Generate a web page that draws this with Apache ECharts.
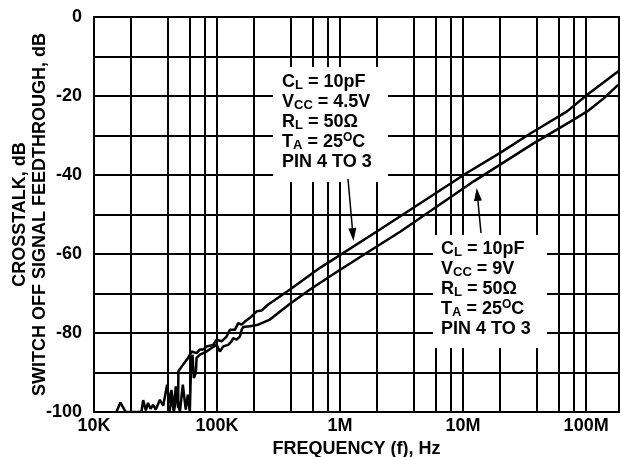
<!DOCTYPE html>
<html>
<head>
<meta charset="utf-8">
<script src="https://cdn.jsdelivr.net/npm/echarts@6/dist/echarts.min.js"></script>
<style>
  html, body { margin: 0; padding: 0; background: #fff; }
  #chart { width: 621px; height: 457px; }
</style>
</head>
<body>
<div id="chart"></div>
<script>
// Crosstalk vs frequency, two supply voltages
const freq45 = [15.2e3, 16.4e3, 18.1e3, 24.3e3, 25.1e3, 26.4e3, 27.5e3, 28.8e3, 30.2e3, 31.8e3,
  34.3e3, 36.5e3, 39.3e3, 40.8e3, 42.6e3, 44.5e3, 46.2e3, 48.3e3, 48.5e3, 53.0e3,
  58.2e3, 62.1e3, 68.2e3, 72.5e3, 77.1e3, 82.2e3, 93.1e3, 99.1e3, 108.9e3, 119.6e3,
  127.3e3, 139.7e3, 148.6e3, 158.5e3, 168.5e3, 191e3, 210e3, 230e3, 261e3, 392e3,
  687e3, 2.11e6, 10.7e6, 20e6, 35.2e6, 70e6, 102e6, 185e6];
const db45 = [-100, -97.6, -100, -100, -97, -99.6, -97.7, -99.2, -98.2, -99.4,
  -96.9, -98.4, -93.1, -97.7, -94.4, -99.4, -93.5, -99, -89.7, -88.0,
  -86.3, -84.7, -85.1, -84.2, -84.2, -83.4, -83.0, -81.7, -82.1, -80.9,
  -79.2, -79.2, -77.5, -77.9, -77.1, -75.8, -74.5, -74.3, -72.8, -69.0,
  -63.5, -53.8, -39.5, -34.4, -29.5, -23.9, -19.7, -13.6];

const freq9 = [41e3, 43e3, 44.5e3, 47.1e3, 49.9e3, 52.7e3, 55.7e3, 57.9e3, 60.1e3, 61.3e3,
  63.2e3, 64.8e3, 67.3e3, 68.2e3, 72.5e3, 82.2e3, 90.3e3, 99.1e3, 105.5e3, 112.2e3,
  123.3e3, 131.3e3, 135.3e3, 144.2e3, 153.5e3, 158.5e3, 163e3, 185e3, 216e3, 269e3,
  392e3, 570e3, 1e6, 3.1e6, 12.2e6, 37.4e6, 74.5e6, 102e6, 139e6, 182e6];
const db9 = [-100, -96, -100, -95.6, -100, -93.1, -99.4, -95.6, -100, -89.8,
  -85.5, -91.4, -90.1, -86.3, -85.5, -84.7, -83.8, -83.0, -84.7, -83.4,
  -83.0, -82.1, -81.3, -81.7, -80.9, -79.2, -78.5, -78.3, -77.9, -76.6,
  -72.6, -69.0, -64.0, -54.3, -41.6, -32.0, -26.5, -23.9, -20.6, -17.2];

const decadeLabels = { 4: '10K', 5: '100K', 6: '1M', 7: '10M', 8: '100M' };
const minorGridFreqs = [];
[1e4, 1e5, 1e6, 1e7, 1e8].forEach(d => [2, 4, 6, 8].forEach(m => {
  if (d * m < 1.85e8) minorGridFreqs.push(d * m);
}));

const FONT = "'Liberation Sans', Arial, sans-serif";

const toPairs = (xs, ys) => xs.map((x, i) => [x, ys[i]]);

// 注释框里的富文本
const rich = {
  m: { fontSize: 18, fontWeight: 'bold', fontFamily: FONT, lineHeight: 20, color: '#000' },
  s: { fontSize: 13, fontWeight: 'bold', fontFamily: FONT, lineHeight: 10, verticalAlign: 'bottom', color: '#000' },
  u: { fontSize: 12, fontWeight: 'bold', fontFamily: FONT, lineHeight: 10, verticalAlign: 'top', color: '#000' }
};
const noteText = (vcc) => [
  '{m|C}{s|L}{m| = 10pF}',
  '{m|V}{s|CC}{m| = ' + vcc + '}',
  '{m|R}{s|L}{m| = 50Ω}',
  '{m|T}{s|A}{m| = 25}{u|O}{m|C}',
  '{m|PIN 4 TO 3}'
].join('\n');

const arrow = (x1, y1, x2, y2) => {
  const dx = x2 - x1, dy = y2 - y1, len = Math.hypot(dx, dy);
  const ux = dx / len, uy = dy / len;
  const bx = x2 - ux * 13, by = y2 - uy * 13;
  const px = -uy * 4, py = ux * 4;
  return [
    { type: 'line', z: 102, shape: { x1, y1, x2: bx, y2: by }, style: { stroke: '#000', lineWidth: 1.5 } },
    { type: 'polygon', z: 102, shape: { points: [[x2, y2], [bx + px, by + py], [bx - px, by - py]] }, style: { fill: '#000' } }
  ];
};

const chart = echarts.init(document.getElementById('chart'));

chart.setOption({
  backgroundColor: '#fff',
  animation: false,
  grid: {
    left: 94, top: 17, right: 2, bottom: 45,
    show: true, borderColor: '#000', borderWidth: 2,
    containLabel: false, outerBoundsMode: 'none'
  },
  xAxis: {
    type: 'log',
    logBase: 10,
    min: 1e4,
    max: 1.85e8,
    name: 'FREQUENCY (f), Hz',
    nameLocation: 'middle',
    nameGap: 28,
    nameMoveOverlap: false,
    nameTextStyle: { fontSize: 18, fontWeight: 'bold', fontFamily: FONT, color: '#000' },
    axisLine: { show: true, lineStyle: { color: '#000', width: 2 } },
    axisTick: { show: false },
    axisLabel: {
      margin: 5,
      fontSize: 18, fontWeight: 'bold', fontFamily: FONT, color: '#000',
      formatter: v => {
        const e = Math.log10(v);
        return Math.abs(e - Math.round(e)) < 1e-6 ? (decadeLabels[Math.round(e)] || '') : '';
      }
    },
    splitLine: { show: true, lineStyle: { color: '#000', width: 2 } }
  },
  yAxis: {
    type: 'value',
    min: -100,
    max: 0,
    interval: 10,
    name: 'CROSSTALK, dB\nSWITCH OFF SIGNAL FEEDTHROUGH, dB',
    nameLocation: 'middle',
    nameRotate: 90,
    nameGap: 44,
    nameMoveOverlap: false,
    nameTextStyle: { fontSize: 18, fontWeight: 'bold', fontFamily: FONT, color: '#000', lineHeight: 20 },
    axisLine: { show: true, lineStyle: { color: '#000', width: 2 } },
    axisTick: { show: false },
    axisLabel: {
      margin: 12,
      fontSize: 18, fontWeight: 'bold', fontFamily: FONT, color: '#000',
      formatter: v => (v % 20 === 0 ? String(v) : '')
    },
    splitLine: { show: true, lineStyle: { color: '#000', width: 2 } }
  },
  series: [
    {
      name: 'VCC = 4.5V',
      type: 'line',
      data: toPairs(freq45, db45),
      symbol: 'none',
      lineStyle: { color: '#000', width: 2.5 },
      z: 5,
      markLine: {
        silent: true,
        symbol: 'none',
        label: { show: false },
        lineStyle: { color: '#000', width: 2, type: 'solid' },
        data: minorGridFreqs.map(f => ({ xAxis: f }))
      }
    },
    {
      name: 'VCC = 9V',
      type: 'line',
      data: toPairs(freq9, db9),
      symbol: 'none',
      lineStyle: { color: '#000', width: 2.5 },
      z: 5
    }
  ],
  graphic: [
    { type: 'rect', z: 100, shape: { x: 273, y: 67, width: 115, height: 115 }, style: { fill: '#fff' } },
    { type: 'text', z: 101, x: 282, y: 72, style: { text: noteText('4.5V'), rich, font: 'bold 18px ' + FONT, fill: '#000' } },
    { type: 'rect', z: 100, shape: { x: 433, y: 235, width: 114, height: 113 }, style: { fill: '#fff' } },
    { type: 'text', z: 101, x: 441, y: 239, style: { text: noteText('9V'), rich, font: 'bold 18px ' + FONT, fill: '#000' } },
    ...arrow(348, 179, 353.5, 241),
    ...arrow(481, 233, 476.7, 188)
  ]
});
</script>
</body>
</html>
